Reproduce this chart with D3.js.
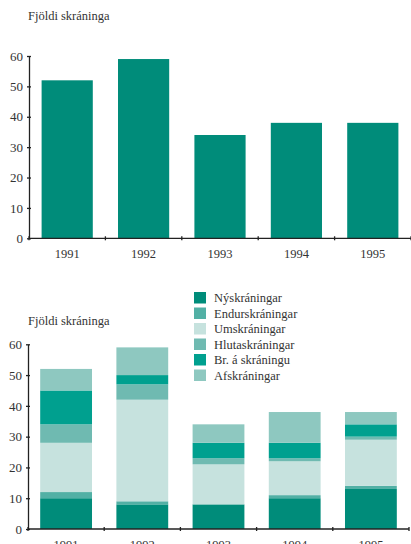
<!DOCTYPE html>
<html>
<head>
<meta charset="utf-8">
<script src="https://cdn.jsdelivr.net/npm/d3@7"></script>
<style>
  body { margin: 0; background: #fff; }
  svg { display: block; }
  svg text { font-family: "Liberation Serif", "Times New Roman", serif; }
</style>
</head>
<body>
<svg id="chart"></svg>
<script>
const width = 411, height = 544;

// data
const years = ["1991", "1992", "1993", "1994", "1995"];
const totals = [52, 59, 34, 38, 38];

const seriesNames = ["Nýskráningar", "Endurskráningar", "Umskráningar", "Hlutaskráningar", "Br. á skráningu", "Afskráningar"];
const seriesColors = ["#008c7a", "#52b0a5", "#c6e2de", "#6fbab1", "#00a08f", "#8ec8c0"];
const nyskr   = [10, 8, 8, 10, 13];
const endurskr = [2, 1, 0, 1, 1];
const umskr   = [16, 33, 13, 11, 15];
const hlutaskr = [6, 5, 2, 1, 1];
const breyting = [11, 3, 5, 5, 4];
const afskr   = [7, 9, 6, 10, 4];
const yTicks = [0, 10, 20, 30, 40, 50, 60];

const textColor = "#333";
const axisColor = "#222";
const serif = "'Liberation Serif', 'Times New Roman', serif";

const svg = d3.select("#chart")
    .attr("width", width)
    .attr("height", height);

// draws y axis, x axis with ticks at slot edges, and the title
function drawAxes(g, x, y, x0, x1, titleY) {
    const yAxis = d3.axisLeft(y).tickValues(yTicks).tickSizeOuter(0).tickSizeInner(2).tickPadding(4);
    const ya = g.append("g").attr("transform", `translate(${x0},0)`).call(yAxis)
        .attr("font-family", serif);
    ya.select(".domain").attr("stroke", axisColor).attr("stroke-width", 1.3);
    ya.selectAll(".tick line").attr("x1", -2).attr("x2", 2).attr("stroke", axisColor).attr("stroke-width", 1.3);
    ya.selectAll(".tick text").attr("fill", textColor).style("font-size", "13px");

    const xAxis = d3.axisBottom(x).tickSize(0).tickPadding(11);
    const xa = g.append("g").attr("transform", `translate(0,${y(0)})`).call(xAxis)
        .attr("font-family", serif);
    xa.select(".domain").remove();
    xa.selectAll(".tick text").attr("fill", textColor).style("font-size", "12.5px");

    g.append("line")
        .attr("x1", x0).attr("x2", x1)
        .attr("y1", y(0)).attr("y2", y(0))
        .attr("stroke", axisColor).attr("stroke-width", 1.3);

    const step = x.step();
    const edges = d3.range(years.length + 1).map(i => x0 + i * step);
    g.append("g").selectAll("line")
        .data(edges)
        .join("line")
        .attr("x1", d => d).attr("x2", d => d)
        .attr("y1", y(0) - 2).attr("y2", y(0) + 2)
        .attr("stroke", axisColor).attr("stroke-width", 1.3);

    g.append("text")
        .attr("x", 28).attr("y", titleY)
        .attr("fill", textColor)
        .style("font-size", "12.5px")
        .text("Fjöldi skráninga");
}

// plot 1: totals
const x1Left = 29, x1Right = 411;
const xTop = d3.scaleBand().domain(years).range([x1Left, x1Right]).paddingInner(0.33).paddingOuter(0.165);
const yTop = d3.scaleLinear().domain([0, 60]).range([238.3, 56]);
const gTop = svg.append("g");

gTop.append("g")
    .selectAll("rect")
    .data(years)
    .join("rect")
    .attr("x", d => xTop(d))
    .attr("width", xTop.bandwidth())
    .attr("y", (d, i) => yTop(totals[i]))
    .attr("height", (d, i) => yTop(0) - yTop(totals[i]))
    .attr("fill", seriesColors[0]);

drawAxes(gTop, xTop, yTop, x1Left, x1Right, 20);

// plot 2: stacked
const x2Left = 28, x2Right = 409;
const xBot = d3.scaleBand().domain(years).range([x2Left, x2Right]).paddingInner(0.32).paddingOuter(0.16);
const yBot = d3.scaleLinear().domain([0, 60]).range([529, 344.3]);
const gBot = svg.append("g");

const seriesData = [nyskr, endurskr, umskr, hlutaskr, breyting, afskr];
const table = years.map((yr, i) => {
    const row = {year: yr};
    seriesNames.forEach((s, j) => row[s] = seriesData[j][i]);
    return row;
});
const stacked = d3.stack().keys(seriesNames)(table);
const color = d3.scaleOrdinal(seriesNames, seriesColors);

gBot.append("g")
    .selectAll("g")
    .data(stacked)
    .join("g")
    .attr("fill", d => color(d.key))
    .selectAll("rect")
    .data(d => d)
    .join("rect")
    .attr("x", d => xBot(d.data.year))
    .attr("width", xBot.bandwidth())
    .attr("y", d => yBot(d[1]))
    .attr("height", d => yBot(d[0]) - yBot(d[1]));

drawAxes(gBot, xBot, yBot, x2Left, x2Right, 325);

// legend
const legend = svg.append("g")
    .selectAll("g")
    .data(seriesNames)
    .join("g")
    .attr("transform", (d, i) => `translate(194,${292 + i * 15.5})`);

legend.append("rect")
    .attr("width", 12).attr("height", 11.5)
    .attr("fill", d => color(d));

legend.append("text")
    .attr("x", 20).attr("y", 10)
    .attr("fill", textColor)
    .style("font-size", "12.5px")
    .text(d => d);
</script>
</body>
</html>
